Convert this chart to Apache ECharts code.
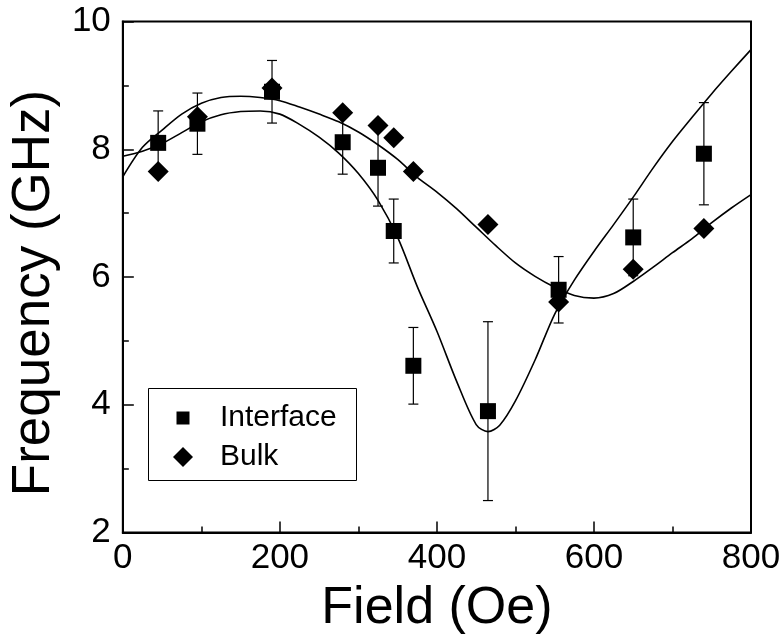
<!DOCTYPE html>
<html>
<head>
<meta charset="utf-8">
<script src="https://cdn.jsdelivr.net/npm/echarts@6/dist/echarts.min.js"></script>
<style>html,body{margin:0;padding:0;background:#fff;}#c{width:784px;height:641px;}</style>
</head>
<body>
<div id="c"></div>
<script>
// Field (Oe) positions of the measured points
var fieldPoints = [45, 95, 190, 280, 325, 345, 370, 465, 555, 650, 740];
// Interface frequencies (GHz) and their error half-widths
var interfaceFreq = [8.10, 8.40, 8.90, 8.11, 7.71, 6.72, 4.61, 3.90, 5.80, 6.62, 7.93];
var interfaceErr  = [0.50, 0.48, 0.49, 0.50, 0.60, 0.50, 0.60, 1.40, 0.52, 0.60, 0.80];
// Bulk frequencies (GHz)
var bulkFreq = [7.65, 8.51, 8.96, 8.57, 8.37, 8.18, 7.65, 6.82, 5.61, 6.12, 6.76];
// Fit curve: deep-dip curve
var fitDeep = [[0,7.89],[25,7.97],[50,8.09],[75,8.26],[100,8.43],[125,8.54],[150,8.59],[175,8.60],[200,8.55],[225,8.39],[250,8.19],[275,7.94],[300,7.62],[325,7.20],[350,6.62],[375,5.85],[400,5.15],[425,4.37],[450,3.69],[465,3.58],[480,3.68],[500,4.06],[525,4.70],[550,5.42],[575,5.95],[600,6.40],[625,6.82],[650,7.25],[675,7.70],[700,8.12],[725,8.50],[750,8.87],[775,9.22],[800,9.56]];
// Fit curve: shallow-dip curve
var fitShallow = [[0,7.57],[25,8.03],[50,8.30],[75,8.55],[100,8.72],[125,8.81],[150,8.83],[175,8.81],[200,8.76],[225,8.66],[250,8.55],[275,8.43],[300,8.27],[325,8.07],[350,7.84],[375,7.56],[400,7.33],[425,7.07],[450,6.78],[475,6.49],[500,6.22],[525,6.01],[550,5.84],[575,5.71],[600,5.67],[625,5.74],[650,5.93],[675,6.15],[700,6.38],[725,6.60],[750,6.85],[775,7.08],[800,7.29]];
var xTicks = {min: 0, max: 800, step: 200};
var yTicks = {min: 2, max: 10, step: 2};

var interfaceData = fieldPoints.map(function (x, i) { return [x, interfaceFreq[i]]; });
var bulkData = fieldPoints.map(function (x, i) { return [x, bulkFreq[i]]; });
var errData = fieldPoints.map(function (x, i) { return [x, interfaceFreq[i] - interfaceErr[i], interfaceFreq[i] + interfaceErr[i]]; });

var FONT = "'Liberation Sans', Arial, Helvetica, sans-serif";
var chart = echarts.init(document.getElementById('c'), null, {renderer: 'canvas'});
chart.setOption({
  animation: false,
  backgroundColor: '#fff',
  grid: {left: 118, right: 33, top: 21.5, bottom: 108.5, show: true, borderColor: '#000', borderWidth: 2, backgroundColor: 'transparent'},
  xAxis: {
    type: 'value', min: xTicks.min, max: xTicks.max, interval: xTicks.step,
    name: 'Field (Oe)', nameLocation: 'middle', nameGap: 50,
    nameTextStyle: {fontFamily: FONT, fontSize: 52, color: '#000'},
    axisLine: {show: true, lineStyle: {color: '#000', width: 2}},
    axisTick: {show: true, inside: true, length: 11, lineStyle: {color: '#000', width: 1.5}},
    minorTick: {show: true, splitNumber: 2, length: 6, lineStyle: {color: '#000', width: 1.5}},
    axisLabel: {fontFamily: FONT, fontSize: 35, color: '#000', margin: 8},
    splitLine: {show: false}
  },
  yAxis: {
    type: 'value', min: yTicks.min, max: yTicks.max, interval: yTicks.step,
    name: 'Frequency (GHz)', nameLocation: 'middle', nameGap: 47,
    nameTextStyle: {fontFamily: FONT, fontSize: 53, color: '#000', padding: [0, 32, 0, 0]},
    axisLine: {show: true, lineStyle: {color: '#000', width: 2}},
    axisTick: {show: true, inside: true, length: 11, lineStyle: {color: '#000', width: 1.5}},
    minorTick: {show: true, splitNumber: 2, length: 6, lineStyle: {color: '#000', width: 1.5}},
    axisLabel: {fontFamily: FONT, fontSize: 35, color: '#000', margin: 12},
    splitLine: {show: false}
  },
  legend: [
    {data: ['Interface'], left: 176.5, top: 403, padding: 0, itemWidth: 13, itemHeight: 13,
     textStyle: {fontFamily: FONT, fontSize: 30, color: '#000', padding: [0, 0, 0, 25.5]}},
    {data: ['Bulk'], left: 173, top: 442, padding: 0, itemWidth: 20, itemHeight: 20,
     textStyle: {fontFamily: FONT, fontSize: 30, color: '#000', padding: [0, 0, 0, 22]}}
  ],
  graphic: [{type: 'rect', left: 148, top: 388, shape: {width: 208, height: 92}, style: {fill: 'transparent', stroke: '#000', lineWidth: 1}, z: 1}],
  series: [
    {type: 'line', name: 'fitDeep', data: fitDeep, smooth: 0.3, showSymbol: false, lineStyle: {color: '#000', width: 1.6}, z: 2, silent: true},
    {type: 'line', name: 'fitShallow', data: fitShallow, smooth: 0.3, showSymbol: false, lineStyle: {color: '#000', width: 1.6}, z: 2, silent: true},
    {type: 'custom', name: 'err', data: errData, z: 3,
     renderItem: function (params, api) {
       var x = api.value(0);
       var lo = api.coord([x, api.value(1)]);
       var hi = api.coord([x, api.value(2)]);
       var hw = 5;
       return {type: 'group', children: [
         {type: 'line', shape: {x1: lo[0], y1: lo[1], x2: hi[0], y2: hi[1]}, style: {stroke: '#000', lineWidth: 1.2}},
         {type: 'line', shape: {x1: lo[0] - hw, y1: lo[1], x2: lo[0] + hw, y2: lo[1]}, style: {stroke: '#000', lineWidth: 1.2}},
         {type: 'line', shape: {x1: hi[0] - hw, y1: hi[1], x2: hi[0] + hw, y2: hi[1]}, style: {stroke: '#000', lineWidth: 1.2}}
       ]};
     }},
    {type: 'scatter', name: 'Interface', data: interfaceData, symbol: 'rect', symbolSize: 16, itemStyle: {color: '#000', opacity: 1}, z: 4},
    {type: 'scatter', name: 'Bulk', data: bulkData, symbol: 'diamond', symbolSize: 21, itemStyle: {color: '#000', opacity: 1}, z: 5}
  ]
});
</script>
</body>
</html>
